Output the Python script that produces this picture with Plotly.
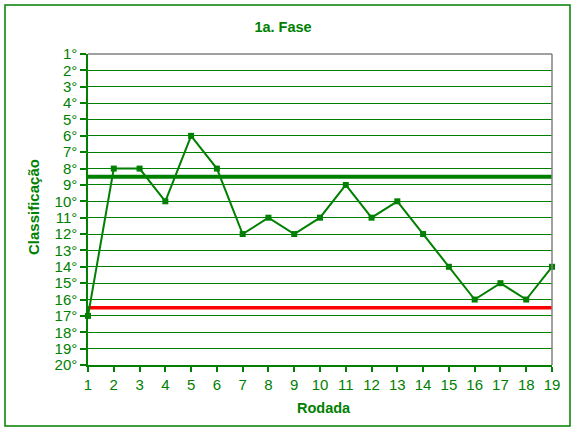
import plotly.graph_objects as go

# Rodadas e classificação
rodadas = list(range(1, 20))
classificacao = [17, 8, 8, 10, 6, 8, 12, 11, 12, 11, 9, 11, 10, 12, 14, 16, 15, 16, 14]

# linhas de referência
linha_verde = [8.5, 8.5]
linha_vermelha = [16.5, 16.5]
limites_x = [1, 19]

posicoes = list(range(1, 21))
rotulos = [f"{p}°" for p in posicoes]

verde = "#008000"
fonte = "Liberation Sans, Arial, sans-serif"

fig = go.Figure()

fig.add_trace(go.Scatter(
    x=limites_x, y=linha_verde, mode="lines",
    line=dict(color=verde, width=4), hoverinfo="skip", cliponaxis=False
))
fig.add_trace(go.Scatter(
    x=limites_x, y=linha_vermelha, mode="lines",
    line=dict(color="#ff0000", width=3.5), hoverinfo="skip", cliponaxis=False
))
fig.add_trace(go.Scatter(
    x=rodadas, y=classificacao, mode="lines+markers",
    line=dict(color=verde, width=2),
    marker=dict(symbol="square", size=6, color=verde),
    cliponaxis=False
))

# borda externa + bordas cinzas do gráfico
L, R, T, B = 88, 552, 54, 365
W, H = 577, 433
pw, ph = R - L, B - T


def px_x(v):
    return (v - L) / pw


def px_y(v):
    return (B - v) / ph


fig.add_shape(type="rect", xref="paper", yref="paper",
              x0=px_x(5), x1=px_x(570), y0=px_y(426), y1=px_y(5),
              line=dict(color=verde, width=1.5), layer="below")
fig.add_shape(type="line", xref="paper", yref="paper",
              x0=0, x1=1, y0=1, y1=1, line=dict(color="#808080", width=1.5))
fig.add_shape(type="line", xref="paper", yref="paper",
              x0=1, x1=1, y0=0, y1=1, line=dict(color="#808080", width=1.5))

fig.add_annotation(text="<b>Rodada</b>", xref="paper", yref="paper",
                   x=px_x(324), y=px_y(408), showarrow=False,
                   xanchor="center", yanchor="middle",
                   font=dict(family=fonte, size=14.5, color=verde))
fig.add_annotation(text="<b>Classificação</b>", xref="paper", yref="paper",
                   x=px_x(33), y=px_y(207), showarrow=False, textangle=-90,
                   xanchor="center", yanchor="middle",
                   font=dict(family=fonte, size=15, color=verde))

fig.update_layout(
    width=W, height=H,
    margin=dict(l=L, r=W - R, t=T, b=H - B),
    paper_bgcolor="white", plot_bgcolor="white",
    showlegend=False,
    title=dict(text="<b>1a. Fase</b>", x=283 / W, xanchor="center",
               y=1 - 27 / H, yanchor="middle",
               font=dict(family=fonte, size=14.5, color=verde)),
    font=dict(family=fonte, size=15, color=verde),
)

fig.update_xaxes(
    range=[1, 19], tickmode="array", tickvals=rodadas,
    showgrid=False, zeroline=False,
    showline=True, linecolor=verde, linewidth=1.5,
    ticks="outside", ticklen=5, tickcolor=verde, tickwidth=1.5,
    tickfont=dict(family=fonte, size=15, color=verde),
)
fig.update_yaxes(
    range=[20, 1], tickmode="array", tickvals=posicoes, ticktext=rotulos,
    showgrid=True, gridcolor=verde, gridwidth=1.2, zeroline=False,
    showline=True, linecolor=verde, linewidth=1.5,
    ticks="outside", ticklen=6, tickcolor=verde, tickwidth=1.5,
    tickfont=dict(family=fonte, size=15, color=verde),
)

fig.write_html("out.html", config={"displayModeBar": False},
               post_script="document.body.style.margin='0';")
